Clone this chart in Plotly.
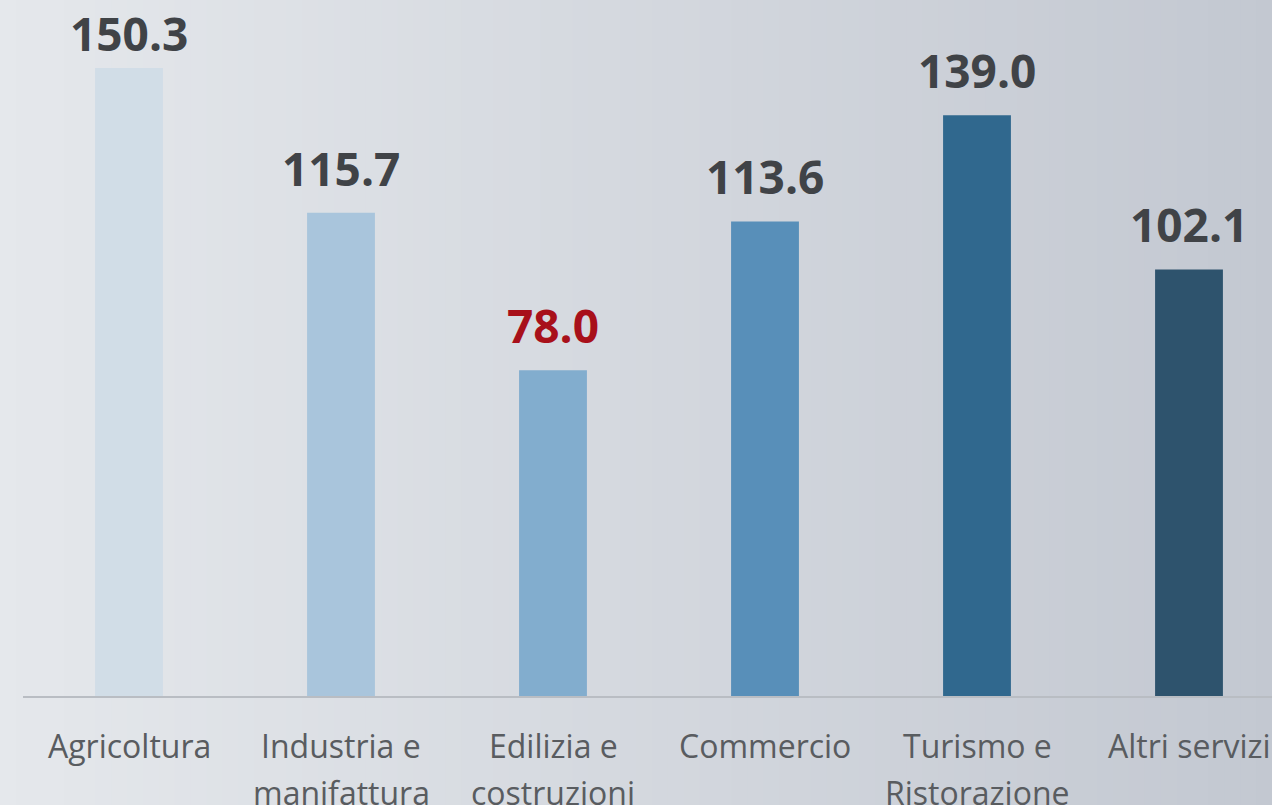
import plotly.graph_objects as go

# data
sectors = ["Agricoltura", "Industria e manifattura", "Edilizia e costruzioni",
           "Commercio", "Turismo e Ristorazione", "Altri servizi"]
label_line1 = ["Agricoltura", "Industria e", "Edilizia e", "Commercio", "Turismo e", "Altri servizi"]
label_line2 = ["", "manifattura", "costruzioni", "", "Ristorazione", ""]
values = [150.3, 115.7, 78.0, 113.6, 139.0, 102.1]

bar_colors = ["#d1dde7", "#a9c5dc", "#82adce", "#588fb9", "#30688e", "#2e536d"]
text_colors = ["#404347", "#404347", "#a8101a", "#404347", "#404347", "#404347"]

W, H = 1272, 805
L, R, T, B = 23, 0, 0, 109
pw, ph = W - L - R, H - T - B
YMAX = 166.6

fig = go.Figure()
fig.add_trace(go.Bar(
    x=sectors,
    y=values,
    width=0.32,
    marker=dict(color=bar_colors, line=dict(width=0)),
    hoverinfo="x+y",
))

# value labels: ~25px above the bar, but kept inside the top of the canvas
for name, v, col in zip(sectors, values, text_colors):
    bar_top = ph * (1 - v / YMAX)
    baseline = max(bar_top - 25, 53)
    fig.add_annotation(x=name, y=v, xref="x", yref="y", text=f"<b>{v:.1f}</b>",
                       showarrow=False, yanchor="bottom", yshift=(bar_top - baseline) - 13,
                       font=dict(family="Open Sans", size=46, color=col))

# horizontal background gradient, built from thin strips
def mix(c1, c2, t):
    return "rgb({},{},{})".format(*[round(a + (b - a) * t) for a, b in zip(c1, c2)])

left_c, right_c = (229, 232, 236), (195, 200, 209)
n = 80
x_start, x_end = -L / pw, 1 + R / pw
for i in range(n):
    x0 = x_start + (x_end - x_start) * i / n
    x1 = x_start + (x_end - x_start) * (i + 1) / n + 0.001
    fig.add_shape(type="rect", xref="paper", yref="paper",
                  x0=x0, x1=x1, y0=-B / ph, y1=1 + T / ph,
                  fillcolor=mix(left_c, right_c, (i + 0.5) / n),
                  line=dict(width=0), layer="below")

# category labels with the wider line spacing of the original
for name, l1, l2 in zip(sectors, label_line1, label_line2):
    for txt, shift in ((l1, -49), (l2, -96)):
        if txt:
            fig.add_annotation(x=name, y=0, xref="x", yref="y", text=txt,
                               showarrow=False, yanchor="middle", yshift=shift,
                               font=dict(family="Open Sans", size=32, color="#595c60"))

fig.update_layout(
    width=W, height=H,
    margin=dict(l=L, r=R, t=T, b=B),
    paper_bgcolor="#e3e6ea",
    plot_bgcolor="rgba(0,0,0,0)",
    showlegend=False,
    xaxis=dict(range=[-0.5, -0.5 + pw / 212], showticklabels=False, showgrid=False,
               showline=True, linecolor="#b9bdc3", linewidth=2, ticks="", fixedrange=True),
    yaxis=dict(range=[0, YMAX], visible=False, showgrid=False, zeroline=False),
)

fig.write_html("out.html", config={"displayModeBar": False},
               post_script="document.body.style.margin='0';document.body.style.overflow='hidden';")
